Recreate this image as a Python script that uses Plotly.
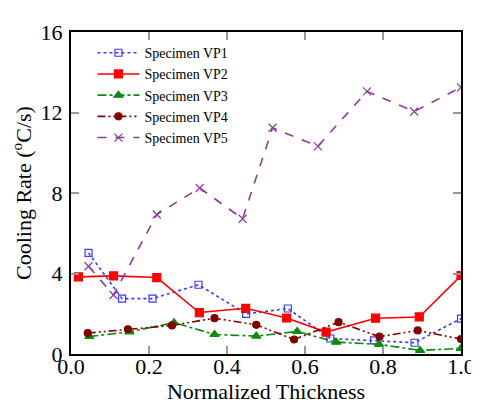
import plotly.graph_objects as go

x_vp1 = [0.045, 0.131, 0.209, 0.327, 0.449, 0.556, 0.665, 0.777, 0.881, 1.0]
y_vp1 = [5.02, 2.75, 2.75, 3.44, 1.99, 2.26, 0.77, 0.68, 0.56, 1.76]

x_vp2 = [0.019, 0.109, 0.220, 0.329, 0.448, 0.553, 0.654, 0.781, 0.893, 1.0]
y_vp2 = [3.83, 3.88, 3.80, 2.06, 2.27, 1.79, 1.09, 1.78, 1.84, 3.90]

x_vp3 = [0.047, 0.150, 0.264, 0.368, 0.475, 0.580, 0.680, 0.790, 0.895, 1.0]
y_vp3 = [0.87, 1.10, 1.56, 0.97, 0.89, 1.12, 0.59, 0.48, 0.18, 0.28]

x_vp4 = [0.043, 0.146, 0.259, 0.368, 0.475, 0.572, 0.686, 0.791, 0.889, 1.0]
y_vp4 = [1.04, 1.23, 1.42, 1.78, 1.45, 0.72, 1.58, 0.86, 1.17, 0.74]

x_vp5 = [0.045, 0.109, 0.220, 0.330, 0.440, 0.517, 0.633, 0.759, 0.880, 1.0]
y_vp5 = [4.36, 2.93, 6.93, 8.25, 6.72, 11.24, 10.32, 13.05, 12.05, 13.25]

names = ["Specimen VP1", "Specimen VP2", "Specimen VP3", "Specimen VP4", "Specimen VP5"]
x_ticks = [0, 0.2, 0.4, 0.6, 0.8, 1.0]
x_tick_labels = ["0.0", "0.2", "0.4", "0.6", "0.8", "1.0"]
y_ticks = [0, 4, 8, 12, 16]

series = [
    (x_vp1, y_vp1, "#3b3bff", "dot", "square-open", 7),
    (x_vp2, y_vp2, "#ff0000", "solid", "square", 8),
    (x_vp3, y_vp3, "#0a8a0a", "dashdot", "triangle-up", 8),
    (x_vp4, y_vp4, "#800000", "8px,3px,2px,3px,2px,3px", "circle", 7),
    (x_vp5, y_vp5, "#8e3a9a", "dash", "x-thin-open", 8),
]

fig = go.Figure()
for name, (xs, ys, col, dash, sym, sz) in zip(names, series):
    fig.add_trace(go.Scatter(
        x=xs, y=ys, name=name, mode="lines+markers",
        line=dict(color=col, width=1.6, dash=dash),
        marker=dict(symbol=sym, size=sz, color=col, line=dict(color=col, width=1.2)),
    ))

FF = "Liberation Serif"

fig.update_layout(
    width=479, height=410,
    margin=dict(l=62, r=12, t=22, b=64),
    paper_bgcolor="white", plot_bgcolor="white",
    font=dict(family=FF, color="black", size=22),
    showlegend=True,
    legend=dict(x=0.055, y=0.984, xanchor="left", yanchor="top",
                font=dict(family=FF, size=14, color="black"),
                bgcolor="rgba(0,0,0,0)", tracegroupgap=0, itemwidth=42),
    xaxis=dict(range=[0, 1.0], tickvals=x_ticks, ticktext=x_tick_labels,
               showgrid=False, zeroline=False, showline=True, linecolor="black", linewidth=2,
               mirror="ticks", ticks="inside", ticklen=8, tickcolor="#999999", tickwidth=1.5,
               ticklabelstandoff=-8,
               tickfont=dict(family=FF, size=22, color="black"),
               title=dict(text="Normalized Thickness", font=dict(family=FF, size=22, color="black"), standoff=0)),
    yaxis=dict(range=[0, 16], tickvals=y_ticks,
               showgrid=False, zeroline=False, showline=True, linecolor="black", linewidth=2,
               mirror="ticks", ticks="inside", ticklen=8, tickcolor="#999999", tickwidth=1.5,
               ticklabelstandoff=2,
               tickfont=dict(family=FF, size=22, color="black"),
               title=dict(text="Cooling Rate (<sup>o</sup>C/s)", font=dict(family=FF, size=22, color="black"), standoff=5)),
)

fig.write_html("out.html")
